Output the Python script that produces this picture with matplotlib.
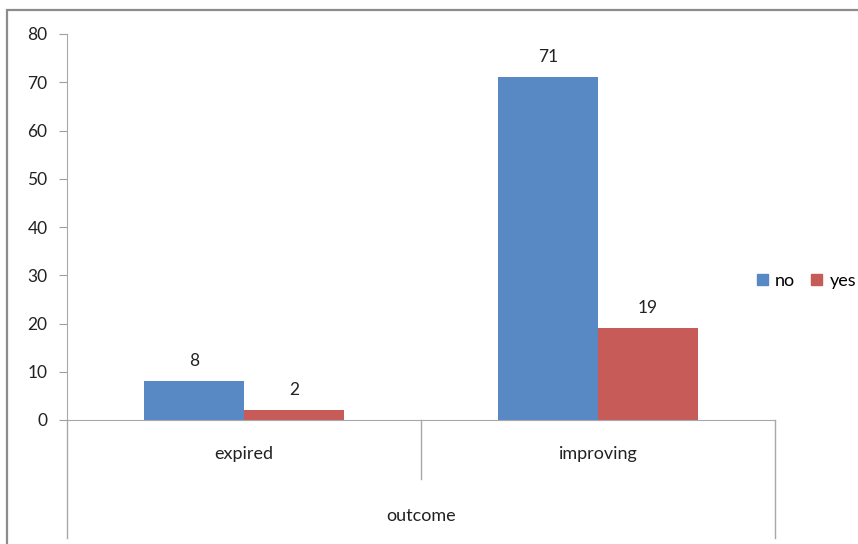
import matplotlib
matplotlib.use("Agg")
import matplotlib.pyplot as plt
import numpy as np
from matplotlib.patches import Rectangle, Patch

plt.rcParams['font.family'] = ['Lato', 'DejaVu Sans']

categories = ["expired", "improving"]
no_vals = [8, 71]
yes_vals = [2, 19]
series = ["no", "yes"]
colors = ["#5889C4", "#C65B57"]
axis_title = "outcome"
yticks = [0, 10, 20, 30, 40, 50, 60, 70, 80]

fig = plt.figure(figsize=(8.58, 5.44), dpi=100)
# outer chart border
fig.patches.append(Rectangle((7/858, -0.02), 1.0, 1 - 10/544 + 0.02,
                             transform=fig.transFigure, fill=False,
                             edgecolor="#8c8c8c", linewidth=1.6))

ax = fig.add_axes([67/858, 1 - 420/544, (775 - 67)/858, (420 - 34)/544])

x = np.arange(len(categories))
w = 100/354
ax.bar(x - w/2, no_vals, w, color=colors[0], label=series[0])
ax.bar(x + w/2, yes_vals, w, color=colors[1], label=series[1])

for xi, v in zip(x - w/2, no_vals):
    ax.annotate(str(v), (xi, v), xytext=(0, 9), textcoords="offset points",
                ha="center", va="bottom", fontsize=12.5, color="#222222")
for xi, v in zip(x + w/2, yes_vals):
    ax.annotate(str(v), (xi, v), xytext=(0, 9), textcoords="offset points",
                ha="center", va="bottom", fontsize=12.5, color="#222222")

ax.set_xlim(-0.5, len(categories) - 0.5)
ax.set_ylim(0, 80)
ax.set_yticks(yticks)
ax.tick_params(axis="y", length=6, color="#a0a0a0", labelsize=12.5,
               labelcolor="#222222", pad=8)
ax.set_xticks([])

for s in ["top", "right"]:
    ax.spines[s].set_visible(False)
ax.spines["left"].set_color("#a8a8a8")
ax.spines["bottom"].set_color("#a8a8a8")

# category separators below axis
tr = ax.get_xaxis_transform()
px = 1/386  # axes fraction per pixel in y
ax.plot([-0.5, -0.5], [0, -118*px], color="#a8a8a8", lw=1, transform=tr, clip_on=False)
ax.plot([1.5, 1.5], [0, -118*px], color="#a8a8a8", lw=1, transform=tr, clip_on=False)
ax.plot([0.5, 0.5], [0, -59*px], color="#a8a8a8", lw=1, transform=tr, clip_on=False)

for xi, c in zip(x, categories):
    ax.text(xi, -34*px, c, transform=tr, ha="center", va="center",
            fontsize=13, color="#222222")
ax.text(0.5, -96*px, axis_title, transform=ax.transAxes, ha="center",
        va="center", fontsize=13, color="#222222")

handles = [Patch(color=colors[0]), Patch(color=colors[1])]
fig.legend(handles, series, loc="center left", bbox_to_anchor=(757/858, 1 - 281/544),
           frameon=False, ncol=2, fontsize=13, handlelength=0.6, handleheight=0.6,
           handletextpad=0.4, columnspacing=0.9, borderpad=0, borderaxespad=0)

fig.savefig("out.png", dpi=100)
